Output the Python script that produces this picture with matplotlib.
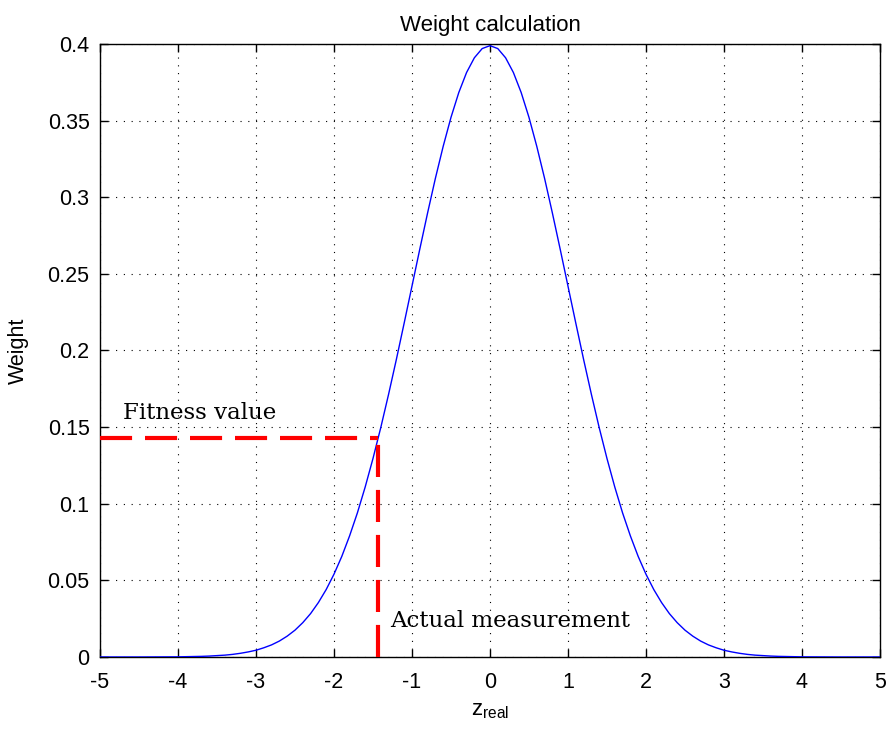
import matplotlib
matplotlib.use('Agg')
import matplotlib.pyplot as plt

# curve
z_real = [-5.0, -4.5, -4.0, -3.9, -3.8, -3.7, -3.6, -3.5, -3.4, -3.3, -3.2, -3.1,
          -3.0, -2.9, -2.8, -2.7, -2.6, -2.5, -2.4, -2.3, -2.2, -2.1,
          -2.0, -1.9, -1.8, -1.7, -1.6, -1.5, -1.4, -1.3, -1.2, -1.1,
          -1.0, -0.9, -0.8, -0.7, -0.6, -0.5, -0.4, -0.3, -0.2, -0.1,
          0.0, 0.1, 0.2, 0.3, 0.4, 0.5, 0.6, 0.7, 0.8, 0.9,
          1.0, 1.1, 1.2, 1.3, 1.4, 1.5, 1.6, 1.7, 1.8, 1.9,
          2.0, 2.1, 2.2, 2.3, 2.4, 2.5, 2.6, 2.7, 2.8, 2.9,
          3.0, 3.1, 3.2, 3.3, 3.4, 3.5, 3.6, 3.7, 3.8, 3.9, 4.0, 4.5, 5.0]
weight = [0.0000, 0.0000, 0.0001, 0.0002, 0.0003, 0.0004, 0.0006, 0.0009, 0.0012, 0.0017, 0.0024, 0.0033,
          0.0044, 0.0060, 0.0079, 0.0104, 0.0136, 0.0175, 0.0224, 0.0283, 0.0355, 0.0440,
          0.0540, 0.0656, 0.0790, 0.0940, 0.1109, 0.1295, 0.1497, 0.1714, 0.1942, 0.2179,
          0.2420, 0.2661, 0.2897, 0.3123, 0.3332, 0.3521, 0.3683, 0.3814, 0.3910, 0.3970,
          0.3989, 0.3970, 0.3910, 0.3814, 0.3683, 0.3521, 0.3332, 0.3123, 0.2897, 0.2661,
          0.2420, 0.2179, 0.1942, 0.1714, 0.1497, 0.1295, 0.1109, 0.0940, 0.0790, 0.0656,
          0.0540, 0.0440, 0.0355, 0.0283, 0.0224, 0.0175, 0.0136, 0.0104, 0.0079, 0.0060,
          0.0044, 0.0033, 0.0024, 0.0017, 0.0012, 0.0009, 0.0006, 0.0004, 0.0003, 0.0002, 0.0001, 0.0000, 0.0000]

measurement = -1.43     # actual measurement on x
fitness = 0.143         # fitness value on y

xticks = [-5, -4, -3, -2, -1, 0, 1, 2, 3, 4, 5]
xticklabels = ['-5', '-4', '-3', '-2', '-1', '0', '1', '2', '3', '4', '5']
yticks = [0, 0.05, 0.1, 0.15, 0.2, 0.25, 0.3, 0.35, 0.4]
yticklabels = ['0', '0.05', '0.1', '0.15', '0.2', '0.25', '0.3', '0.35', '0.4']

plt.rcParams['font.family'] = ['Liberation Sans', 'DejaVu Sans']

fig = plt.figure(figsize=(8.87, 7.33), dpi=100)
ax = fig.add_axes([0.1127, 0.1037, 0.8794, 0.8363])

ax.plot(z_real, weight, color='#0000ff', lw=1.0, zorder=3)

# red dashed guide lines
ax.plot([-5, measurement], [fitness, fitness], color='red', lw=3, dashes=(7.7, 3.1), zorder=4)
ax.plot([measurement, measurement], [0, fitness], color='red', lw=3, dashes=(7.7, 3.1), zorder=4)

ax.text(-4.7, 0.155, 'Fitness value', fontsize=16.5, family='DejaVu Serif')
ax.text(measurement + 0.15, 0.0196, 'Actual measurement', fontsize=16.5, family='DejaVu Serif')

ax.set_xlim(-5, 5)
ax.set_ylim(0, 0.4)
ax.set_xticks(xticks)
ax.set_xticklabels(xticklabels)
ax.set_yticks(yticks)
ax.set_yticklabels(yticklabels)
ax.tick_params(direction='in', length=6, width=1, top=True, right=True, labelsize=15.5)
ax.tick_params(axis='x', pad=11)
ax.tick_params(axis='y', pad=7.5)
ax.grid(True, color='black', linestyle=(0, (1, 6)), lw=0.8)
for s in ax.spines.values():
    s.set_linewidth(1.0)

ax.set_title('Weight calculation', fontsize=16, pad=9)
ax.set_xlabel(r'z$_{\mathregular{real}}$', fontsize=16, labelpad=5)
ax.set_ylabel('Weight', fontsize=15.5, labelpad=13)

fig.savefig('out.png', dpi=100)
